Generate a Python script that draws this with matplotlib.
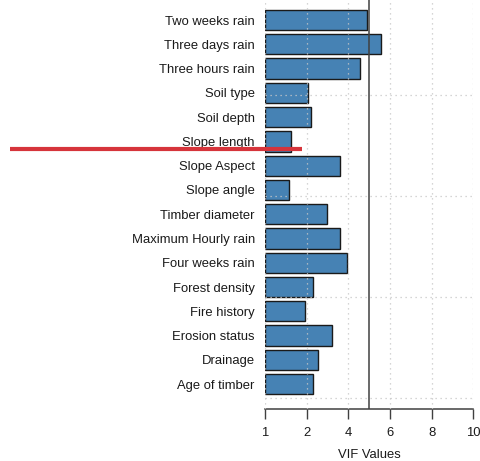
import numpy as np
import matplotlib
matplotlib.use("Agg")
import matplotlib.pyplot as plt
from matplotlib.lines import Line2D

# VIF per predictor, listed top to bottom as drawn
factors = ["Two weeks rain", "Three days rain", "Three hours rain", "Soil type",
           "Soil depth", "Slope length", "Slope Aspect", "Slope angle",
           "Timber diameter", "Maximum Hourly rain", "Four weeks rain",
           "Forest density", "Fire history", "Erosion status", "Drainage",
           "Age of timber"]
vif = [4.92, 5.56, 4.57, 2.07, 2.20, 1.63, 3.59, 1.58,
       2.98, 3.59, 3.93, 2.32, 1.95, 3.21, 2.53, 2.29]
x_ticks = [1, 2, 4, 6, 8, 10]
vif_cutoff = 5

plt.rcParams['font.family'] = ['Liberation Sans', 'DejaVu Sans']
plt.rcParams['font.size'] = 9.4
text_col = '#1a1a1a'
axis_col = '#404040'


# piecewise axis: 1..2 takes one step, then every 2 units one step
def fwd(v):
    v = np.asarray(v, dtype=float)
    return np.where(v <= 2, v - 1, v / 2)


def inv(p):
    p = np.asarray(p, dtype=float)
    return np.where(p <= 1, p + 1, 2 * p)


fig = plt.figure(figsize=(4.8, 4.61), dpi=100)
ax = fig.add_axes([265 / 480, 52 / 461, 208.3 / 480, 409 / 461])
ax.set_xscale('function', functions=(fwd, inv))

# barplot-style positions: width 1, space 0.2, first bar at the bottom
n = len(factors)
ypos = 0.7 + 1.2 * np.arange(n)
vals = np.array(vif[::-1])
ax.barh(ypos, vals - 1, left=1, height=1.0, color='#4682B4',
        edgecolor='#1a1a1a', linewidth=1.0)

ax.axvline(vif_cutoff, color=axis_col, linewidth=1.1, zorder=3)

ax.set_xlim(1, 10)
ax.set_ylim(-0.53, 19.69)

ax.set_xticks(x_ticks)
ax.set_xticklabels([str(t) for t in x_ticks], color=text_col)
ax.xaxis.set_minor_locator(matplotlib.ticker.NullLocator())
ax.set_yticks(ypos)
ax.set_yticklabels(factors[::-1], color=text_col)
ax.set_yticks([0, 5, 10, 15], minor=True)

ax.tick_params(axis='y', which='both', length=0, pad=7.3)
ax.tick_params(axis='x', which='major', length=7.5, width=1.0, color=axis_col,
               pad=5.5)

# dotted light grid over the bars
ax.grid(True, axis='x', which='major', color='#c8c8c8', linewidth=0.9,
        linestyle=(0, (1, 3)))
ax.grid(True, axis='y', which='minor', color='#c8c8c8', linewidth=0.9,
        linestyle=(0, (1, 3)))
ax.set_axisbelow(False)

for s in ['top', 'right', 'left']:
    ax.spines[s].set_visible(False)
ax.spines['bottom'].set_bounds(1, 10)
ax.spines['bottom'].set_color(axis_col)
ax.spines['bottom'].set_linewidth(1.1)

ax.set_xlabel("VIF Values", color=text_col, labelpad=7)

# red strike line across the left side
fig.add_artist(Line2D([10 / 480, 302 / 480], [1 - 148.8 / 461] * 2,
                      transform=fig.transFigure, color='#d6343b',
                      linewidth=3.0, solid_capstyle='butt'))

fig.savefig("out.png", dpi=100)
